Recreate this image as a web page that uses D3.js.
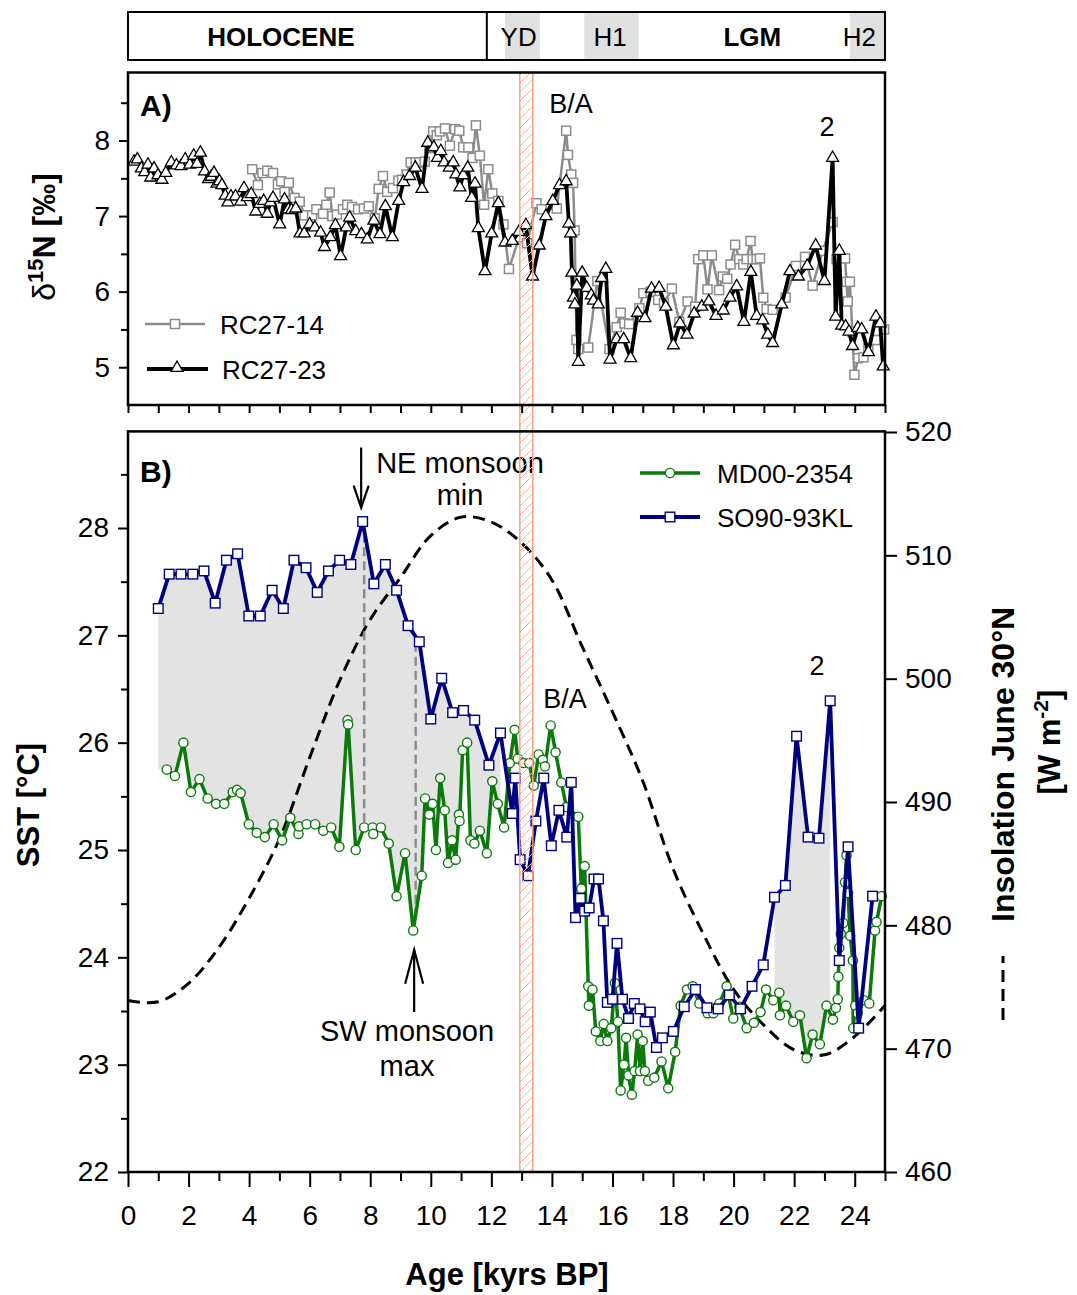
<!DOCTYPE html>
<html>
<head>
<meta charset="utf-8">
<script src="https://cdn.jsdelivr.net/npm/d3@7"></script>
<style>
body { margin: 0; background: #fff; }
text { font-family: Arial, "Liberation Sans", sans-serif; fill: #000; }
</style>
</head>
<body>
<div id="chart"></div>
<script>
const width = 1077, height = 1295;

// Panel A: d15N records [age kyr BP, d15N permil]
const rc2714 = [[4.1,7.62],[4.29,7.41],[4.44,7.57],[4.6,7.6],[4.79,7.57],[4.95,7.42],[5.06,7.46],[5.17,7.32],[5.31,7.44],[5.5,7.24],[5.67,7.19],[5.83,7.01],[6.08,7.01],[6.22,7.09],[6.44,7.03],[6.55,7.15],[6.66,7.31],[6.75,7.0],[6.9,7.02],[7.1,7.09],[7.24,7.15],[7.4,7.12],[7.6,7.09],[7.79,7.1],[7.95,7.13],[8.15,6.97],[8.28,7.36],[8.42,7.53],[8.56,7.32],[8.75,7.37],[8.93,7.47],[9.05,7.48],[9.2,7.55],[9.34,7.71],[9.5,7.71],[9.62,7.71],[9.8,7.72],[9.95,7.9],[10.08,8.12],[10.2,8.07],[10.3,8.12],[10.47,8.16],[10.63,7.93],[10.8,8.15],[10.94,8.13],[11.07,7.91],[11.24,7.91],[11.38,7.77],[11.49,8.2],[11.62,7.8],[11.76,7.15],[11.9,7.62],[12.03,7.3],[12.23,7.2],[12.4,6.89],[12.58,6.3],[12.92,6.72],[13.18,6.64],[13.49,7.17],[13.66,7.09],[14.16,7.1],[14.47,8.13],[14.53,7.81],[14.64,7.55],[14.7,7.44],[14.75,6.81],[14.81,5.36],[14.87,5.24],[15.2,5.26],[15.5,6.14],[15.9,5.24],[16.14,5.53],[16.27,5.72],[16.4,5.58],[16.55,5.57],[16.89,5.78],[17.02,5.98],[17.26,6.0],[17.51,5.89],[17.7,5.85],[17.96,6.04],[18.21,5.6],[18.48,5.87],[18.73,5.8],[18.83,6.43],[19.0,6.48],[19.14,6.03],[19.28,6.48],[19.52,6.02],[19.64,6.2],[19.79,6.17],[19.9,6.36],[20.05,6.62],[20.19,6.43],[20.32,6.36],[20.43,6.43],[20.56,6.67],[20.63,6.43],[20.76,6.43],[20.87,6.44],[20.98,5.92],[21.09,5.77],[21.29,5.76],[21.72,5.92],[22.06,6.34],[22.36,6.46],[22.61,6.08],[22.94,6.54],[23.27,6.92],[23.4,6.43],[23.68,6.44],[23.73,6.13],[23.77,5.87],[23.84,6.13],[23.92,5.47],[23.99,4.9],[24.12,5.12],[24.29,5.13],[24.45,5.25],[24.7,5.36],[24.97,5.5]];

const rc2723 = [[0.2,7.72],[0.31,7.75],[0.44,7.63],[0.55,7.58],[0.66,7.68],[0.75,7.51],[0.86,7.63],[0.99,7.54],[1.12,7.48],[1.25,7.57],[1.43,7.71],[1.6,7.67],[1.75,7.66],[1.89,7.75],[2.04,7.68],[2.17,7.8],[2.28,7.69],[2.39,7.84],[2.53,7.59],[2.66,7.49],[2.75,7.52],[2.84,7.57],[2.94,7.43],[3.02,7.46],[3.1,7.41],[3.21,7.27],[3.3,7.18],[3.4,7.26],[3.55,7.26],[3.72,7.19],[3.83,7.37],[3.94,7.25],[4.07,7.29],[4.22,7.06],[4.35,7.16],[4.48,7.2],[4.6,7.03],[4.7,7.18],[4.79,7.24],[5.01,6.89],[5.17,7.22],[5.3,7.09],[5.4,7.08],[5.54,7.1],[5.68,6.77],[5.82,6.77],[6.0,6.89],[6.17,6.85],[6.36,6.78],[6.49,6.59],[6.68,6.72],[6.85,6.88],[7.02,6.47],[7.21,6.85],[7.32,6.98],[7.52,6.8],[7.71,6.76],[7.9,6.69],[8.12,6.94],[8.32,6.76],[8.5,7.13],[8.73,6.72],[8.94,7.2],[9.1,7.45],[9.3,7.53],[9.49,7.64],[9.71,7.36],[9.9,7.97],[10.1,7.91],[10.22,7.77],[10.33,7.86],[10.44,7.71],[10.61,7.64],[10.74,7.71],[10.83,7.55],[10.96,7.38],[11.07,7.54],[11.22,7.64],[11.35,7.24],[11.46,7.43],[11.57,6.84],[11.79,6.27],[12.01,6.77],[12.23,7.17],[12.45,6.65],[12.69,6.67],[12.91,6.79],[13.14,6.88],[13.36,6.2],[13.58,6.61],[13.8,7.0],[14.03,7.2],[14.25,7.41],[14.47,7.46],[14.56,6.9],[14.62,6.77],[14.66,6.25],[14.71,5.92],[14.76,5.83],[14.82,6.08],[14.87,5.07],[15.0,6.25],[15.15,6.05],[15.3,5.95],[15.37,5.88],[15.53,5.83],[15.64,6.18],[15.78,6.3],[15.92,5.1],[16.14,5.37],[16.37,5.37],[16.6,5.12],[16.83,5.72],[17.07,5.65],[17.29,6.04],[17.54,6.05],[17.76,5.8],[18.01,5.29],[18.23,5.58],[18.46,5.43],[18.7,5.71],[18.95,5.8],[19.18,5.87],[19.42,5.68],[19.66,5.75],[19.88,5.92],[20.1,6.07],[20.34,5.6],[20.57,6.26],[20.76,5.68],[20.96,5.62],[21.13,5.43],[21.29,5.32],[21.59,5.83],[21.86,6.27],[22.14,6.2],[22.43,6.34],[22.71,6.61],[23.0,6.14],[23.27,7.77],[23.37,5.67],[23.49,6.54],[23.57,5.55],[23.7,5.54],[23.81,5.47],[23.93,5.28],[24.1,5.52],[24.23,5.5],[24.45,5.2],[24.7,5.67],[24.84,5.58],[24.94,5.01]];

// Panel B: SST records [age kyr BP, SST degC]
const md002354 = [[1.28,25.75],[1.55,25.69],[1.83,26.0],[2.08,25.54],[2.36,25.66],[2.63,25.48],[2.91,25.43],[3.18,25.43],[3.46,25.54],[3.6,25.56],[3.72,25.53],[3.99,25.24],[4.25,25.16],[4.52,25.12],[4.81,25.24],[5.09,25.09],[5.36,25.3],[5.63,25.15],[5.65,25.22],[5.9,25.24],[6.18,25.24],[6.45,25.18],[6.71,25.21],[6.98,25.03],[7.25,26.21],[7.27,26.17],[7.52,25.0],[7.8,25.21],[8.08,25.21],[8.1,25.15],[8.35,25.21],[8.61,25.06],[8.87,24.57],[9.15,24.97],[9.42,24.25],[9.7,24.76],[9.81,25.48],[9.95,25.33],[10.06,25.43],[10.17,25.0],[10.31,25.67],[10.46,25.37],[10.57,24.88],[10.7,25.09],[10.82,24.91],[10.93,25.33],[10.95,25.27],[11.05,25.93],[11.2,26.0],[11.31,25.09],[11.44,25.06],[11.62,25.18],[11.85,24.97],[12.03,25.64],[12.21,25.43],[12.42,25.21],[12.61,25.81],[12.77,26.12],[12.87,25.85],[13.06,25.81],[13.25,25.81],[13.4,25.6],[13.56,25.89],[13.7,25.84],[13.77,25.78],[13.96,26.16],[14.12,25.91],[14.31,25.63],[14.48,25.4],[14.87,25.31],[14.97,24.64],[15.08,24.85],[15.2,23.73],[15.22,23.55],[15.34,23.7],[15.45,23.31],[15.6,23.22],[15.71,23.38],[15.83,23.22],[15.96,23.34],[16.08,23.76],[16.18,23.4],[16.27,22.76],[16.38,23.0],[16.45,23.25],[16.53,22.9],[16.64,22.72],[16.73,22.94],[16.83,23.28],[16.91,22.94],[17.0,23.22],[17.07,22.94],[17.18,22.85],[17.38,22.88],[17.62,23.03],[17.84,22.78],[18.07,23.12],[18.25,23.55],[18.46,23.7],[18.65,23.73],[18.87,23.57],[19.14,23.48],[19.33,23.48],[19.53,23.57],[19.77,23.73],[19.99,23.43],[20.19,23.54],[20.43,23.34],[20.67,23.39],[20.89,23.49],[21.07,23.7],[21.31,23.6],[21.51,23.67],[21.53,23.46],[21.73,23.55],[21.97,23.4],[22.19,23.46],[22.41,23.06],[22.61,23.28],[22.85,23.19],[23.07,23.55],[23.28,23.42],[23.38,23.53],[23.44,23.61],[23.46,23.82],[23.49,24.09],[23.54,24.22],[23.62,24.32],[23.68,24.7],[23.73,24.95],[23.78,24.6],[23.85,24.2],[23.94,23.97],[23.95,23.34],[24.02,23.55],[24.1,23.48],[24.3,23.6],[24.48,23.57],[24.67,24.25],[24.72,24.33],[24.89,24.57]];

const so9093kl = [[1.0,27.25],[1.36,27.57],[1.75,27.57],[2.14,27.57],[2.51,27.6],[2.88,27.3],[3.25,27.7],[3.62,27.76],[3.99,27.18],[4.37,27.18],[4.76,27.42],[5.13,27.25],[5.48,27.7],[5.88,27.63],[6.25,27.4],[6.62,27.6],[6.99,27.7],[7.36,27.66],[7.75,28.06],[8.12,27.48],[8.5,27.66],[8.87,27.42],[9.25,27.09],[9.62,26.94],[10.0,26.22],[10.36,26.6],[10.72,26.28],[11.08,26.3],[11.45,26.21],[11.92,25.79],[12.3,26.09],[12.69,25.34],[12.79,25.67],[12.95,24.91],[13.21,24.76],[13.47,25.27],[13.73,25.67],[13.98,25.04],[14.23,25.37],[14.49,25.12],[14.64,25.63],[14.78,24.37],[14.94,24.55],[15.08,24.43],[15.23,24.46],[15.39,24.73],[15.54,24.73],[15.7,24.34],[15.83,23.58],[16.0,23.61],[16.15,24.13],[16.33,23.61],[16.53,23.43],[16.72,23.57],[16.91,23.52],[17.08,23.4],[17.25,23.49],[17.45,23.16],[17.65,23.25],[18.01,23.31],[18.37,23.54],[18.74,23.7],[19.12,23.53],[19.49,23.52],[19.86,23.65],[20.23,23.52],[20.61,23.73],[20.98,23.93],[21.35,24.56],[21.71,24.67],[22.08,26.06],[22.46,25.12],[22.82,25.11],[23.19,26.39],[23.49,23.97],[23.78,25.03],[24.13,23.34],[24.59,24.57]];

// June insolation 30N [age, W m-2]
const insolation = [[0,473.9],[1,473.8],[2,475.3],[3,478.2],[4,482.2],[5,487.0],[6,493.6],[7,499.9],[8,504.8],[9,508.2],[10,511.6],[11,513.1],[12,512.7],[13,511.0],[14,508.0],[15,502.6],[16,497.3],[17,491.7],[18,484.6],[19,479.3],[20,474.8],[21,471.9],[22,469.9],[23,469.5],[24,471.0],[25,473.5]];

// shaded SST difference windows, YD hatched band, period bar
const fillRanges = [[1.0, 12.3], [21.35, 23.19]];
const hatchBand = [12.94, 13.37];
const periodShades = [[12.45, 13.6], [15.07, 16.87], [23.85, 25]];
const periodDivider = 11.85;
const periodLabels = [
  { label: "HOLOCENE", age: 5.05, bold: true },
  { label: "YD", age: 12.9, bold: false },
  { label: "H1", age: 15.92, bold: false },
  { label: "LGM", age: 20.62, bold: true },
  { label: "H2", age: 24.15, bold: false }
];

const ageMajor = d3.range(0, 25, 2);
const ageMinor = d3.range(1, 26, 2);
const d15nMajor = [5, 6, 7, 8];
const d15nMinor = [5.5, 6.5, 7.5, 8.5];
const sstMajor = [22, 23, 24, 25, 26, 27, 28];
const sstMinor = [22.5, 23.5, 24.5, 25.5, 26.5, 27.5, 28.5];
const insolTicks = [460, 470, 480, 490, 500, 510, 520];

const svg = d3.select("#chart").append("svg")
    .attr("width", width)
    .attr("height", height);

const x = d3.scaleLinear().domain([0, 25]).range([128, 885]);
const yA = d3.scaleLinear().domain([4.5, 8.9]).range([405, 72.5]);
const yB = d3.scaleLinear().domain([22, 28.9]).range([1172, 431.4]);
const yI = d3.scaleLinear().domain([460, 520]).range([1172, 432]);

// hatch pattern for the red band
const defs = svg.append("defs");
const pat = defs.append("pattern")
    .attr("id", "hatch")
    .attr("patternUnits", "userSpaceOnUse")
    .attr("width", 9).attr("height", 9);
pat.append("path")
    .attr("d", "M0,9 L9,0 M-2,2 L2,-2 M7,11 L11,7")
    .attr("stroke", "#f9b39c")
    .attr("stroke-width", 1);

// ---------- period bar ----------
const bar = svg.append("g");
periodShades.forEach(s => {
    bar.append("rect")
        .attr("x", x(s[0])).attr("y", 12)
        .attr("width", x(s[1]) - x(s[0])).attr("height", 48)
        .attr("fill", "#e0e0e0");
});
bar.append("rect")
    .attr("x", x(0)).attr("y", 12)
    .attr("width", x(25) - x(0)).attr("height", 48)
    .attr("fill", "none").attr("stroke", "#000").attr("stroke-width", 2);
bar.append("line")
    .attr("x1", x(periodDivider)).attr("x2", x(periodDivider))
    .attr("y1", 12).attr("y2", 60)
    .attr("stroke", "#000").attr("stroke-width", 2);
bar.selectAll("text.period")
    .data(periodLabels)
    .enter().append("text")
    .attr("x", d => x(d.age))
    .attr("y", 46)
    .attr("text-anchor", "middle")
    .style("font-size", "26px")
    .style("font-weight", d => d.bold ? "bold" : "normal")
    .text(d => d.label);

// ---------- panel A ----------
const gA = svg.append("g");

const lineA = d3.line().x(d => x(d[0])).y(d => yA(d[1]));

gA.append("path")
    .datum(rc2714)
    .attr("d", lineA)
    .attr("fill", "none")
    .attr("stroke", "#8c8c8c")
    .attr("stroke-width", 2.5);
gA.selectAll(".sq14")
    .data(rc2714)
    .enter().append("rect")
    .attr("class", "sq14")
    .attr("x", d => x(d[0]) - 4.5)
    .attr("y", d => yA(d[1]) - 4.5)
    .attr("width", 9).attr("height", 9)
    .attr("fill", "#fff")
    .attr("stroke", "#8c8c8c")
    .attr("stroke-width", 1.5);

gA.append("path")
    .datum(rc2723)
    .attr("d", lineA)
    .attr("fill", "none")
    .attr("stroke", "#000")
    .attr("stroke-width", 3.8)
    .attr("stroke-linejoin", "round");
const tri = d3.symbol().type(d3.symbolTriangle).size(62);
gA.selectAll(".tri23")
    .data(rc2723)
    .enter().append("path")
    .attr("class", "tri23")
    .attr("d", tri)
    .attr("transform", d => `translate(${x(d[0])},${yA(d[1])})`)
    .attr("fill", "#fff")
    .attr("stroke", "#000")
    .attr("stroke-width", 1.3);

// legend A
gA.append("line").attr("x1", 145).attr("x2", 205).attr("y1", 324).attr("y2", 324)
    .attr("stroke", "#8c8c8c").attr("stroke-width", 2.5);
gA.append("rect").attr("x", 170.5).attr("y", 319.5).attr("width", 9).attr("height", 9)
    .attr("fill", "#fff").attr("stroke", "#8c8c8c").attr("stroke-width", 1.5);
gA.append("text").attr("x", 220).attr("y", 334).style("font-size", "26px").text("RC27-14");
gA.append("line").attr("x1", 147).attr("x2", 208).attr("y1", 369).attr("y2", 369)
    .attr("stroke", "#000").attr("stroke-width", 3.8);
gA.append("path").attr("d", tri).attr("transform", "translate(177,368)")
    .attr("fill", "#fff").attr("stroke", "#000").attr("stroke-width", 1.3);
gA.append("text").attr("x", 222).attr("y", 379).style("font-size", "26px").text("RC27-23");

gA.append("text").attr("x", 140).attr("y", 116)
    .style("font-size", "30px").style("font-weight", "bold").text("A)");
gA.append("text").attr("x", 571).attr("y", 113).attr("text-anchor", "middle")
    .style("font-size", "27px").text("B/A");
gA.append("text").attr("x", 827).attr("y", 136).attr("text-anchor", "middle")
    .style("font-size", "27px").text("2");

// axes A
function styleAxis(g, fs) {
    g.select(".domain").remove();
    g.selectAll(".tick line").attr("stroke", "#000").attr("stroke-width", 2);
    g.selectAll(".tick text").style("font-size", fs + "px")
        .style("font-family", "Arial, 'Liberation Sans', sans-serif");
}
svg.append("g").attr("transform", "translate(128,0)")
    .call(d3.axisLeft(yA).tickValues(d15nMajor).tickSize(9).tickPadding(9).tickFormat(d3.format("d")))
    .call(g => styleAxis(g, 28));
svg.append("g").attr("transform", "translate(128,0)")
    .call(d3.axisLeft(yA).tickValues(d15nMinor).tickSize(7).tickFormat(""))
    .call(g => styleAxis(g, 28));
svg.append("g").attr("transform", "translate(0,405)")
    .call(d3.axisBottom(x).tickValues(d3.range(0, 26, 1)).tickSize(8).tickFormat(""))
    .call(g => styleAxis(g, 28));

// ---------- panel B ----------
const gB = svg.append("g");

function interp(series, a) {
    const i = d3.bisector(d => d[0]).left(series, a);
    if (i <= 0) return series[0][1];
    if (i >= series.length) return series[series.length - 1][1];
    const p = series[i - 1], q = series[i];
    return p[1] + (q[1] - p[1]) * (a - p[0]) / (q[0] - p[0]);
}

const areaB = d3.area()
    .x(d => x(d))
    .y0(d => yB(interp(md002354, d)))
    .y1(d => yB(interp(so9093kl, d)));

fillRanges.forEach(r => {
    const ages = Array.from(new Set([r[0], r[1]]
        .concat(md002354.map(d => d[0]), so9093kl.map(d => d[0]))
        .filter(a => a >= r[0] && a <= r[1]))).sort((a, b) => a - b);
    gB.append("path")
        .datum(ages)
        .attr("d", areaB)
        .attr("fill", "#e3e3e3");
});

// insolation curve
gB.append("path")
    .datum(insolation)
    .attr("d", d3.line().x(d => x(d[0])).y(d => yI(d[1])).curve(d3.curveCatmullRom))
    .attr("fill", "none")
    .attr("stroke", "#000")
    .attr("stroke-width", 3)
    .attr("stroke-dasharray", "12,7");

// dashed gray drop lines
[[7.8, 27.95, 25.25], [9.5, 26.93, 24.32]].forEach(v => {
    gB.append("line")
        .attr("x1", x(v[0])).attr("x2", x(v[0]))
        .attr("y1", yB(v[1])).attr("y2", yB(v[2]))
        .attr("stroke", "#8c8c8c").attr("stroke-width", 2.5)
        .attr("stroke-dasharray", "9,5");
});

const lineB = d3.line().x(d => x(d[0])).y(d => yB(d[1]));

gB.append("path")
    .datum(md002354)
    .attr("d", lineB)
    .attr("fill", "none")
    .attr("stroke", "#0b7a0b")
    .attr("stroke-width", 3.5)
    .attr("stroke-linejoin", "round");
gB.selectAll(".circ")
    .data(md002354)
    .enter().append("circle")
    .attr("class", "circ")
    .attr("cx", d => x(d[0]))
    .attr("cy", d => yB(d[1]))
    .attr("r", 4.6)
    .attr("fill", "#fff")
    .attr("stroke", "#0b7a0b")
    .attr("stroke-width", 1.4);

gB.append("path")
    .datum(so9093kl)
    .attr("d", lineB)
    .attr("fill", "none")
    .attr("stroke", "#00007f")
    .attr("stroke-width", 3.8)
    .attr("stroke-linejoin", "round");
gB.selectAll(".sqb")
    .data(so9093kl)
    .enter().append("rect")
    .attr("class", "sqb")
    .attr("x", d => x(d[0]) - 4.8)
    .attr("y", d => yB(d[1]) - 4.8)
    .attr("width", 9.6).attr("height", 9.6)
    .attr("fill", "#fff")
    .attr("stroke", "#00007f")
    .attr("stroke-width", 1.4);

// legend B
gB.append("line").attr("x1", 640).attr("x2", 700).attr("y1", 473).attr("y2", 473)
    .attr("stroke", "#0b7a0b").attr("stroke-width", 3.5);
gB.append("circle").attr("cx", 670).attr("cy", 473).attr("r", 4.6)
    .attr("fill", "#fff").attr("stroke", "#0b7a0b").attr("stroke-width", 1.4);
gB.append("text").attr("x", 717).attr("y", 483).style("font-size", "26px").text("MD00-2354");
gB.append("line").attr("x1", 640).attr("x2", 700).attr("y1", 517).attr("y2", 517)
    .attr("stroke", "#00007f").attr("stroke-width", 3.8);
gB.append("rect").attr("x", 665.2).attr("y", 512.2).attr("width", 9.6).attr("height", 9.6)
    .attr("fill", "#fff").attr("stroke", "#00007f").attr("stroke-width", 1.4);
gB.append("text").attr("x", 717).attr("y", 527).style("font-size", "26px").text("SO90-93KL");

gB.append("text").attr("x", 140).attr("y", 482)
    .style("font-size", "30px").style("font-weight", "bold").text("B)");
gB.append("text").attr("x", 565).attr("y", 708).attr("text-anchor", "middle")
    .style("font-size", "27px").text("B/A");
gB.append("text").attr("x", 817).attr("y", 675).attr("text-anchor", "middle")
    .style("font-size", "27px").text("2");

// monsoon annotations
function arrow(xa, yTail, yTip, headLen, headHalf) {
    const dir = yTip > yTail ? -1 : 1;
    gB.append("line").attr("x1", xa).attr("x2", xa).attr("y1", yTail).attr("y2", yTip)
        .attr("stroke", "#000").attr("stroke-width", 2.2);
    gB.append("path")
        .attr("d", `M${xa - headHalf},${yTip + dir * headLen} L${xa},${yTip} L${xa + headHalf},${yTip + dir * headLen}`)
        .attr("fill", "none").attr("stroke", "#000").attr("stroke-width", 2.2);
}
arrow(x(7.7), yB(28.75), yB(28.19), 22, 7.5);
arrow(x(9.45), yB(23.49), yB(24.07), 34, 9);
gB.append("text").attr("x", 460).attr("y", 473).attr("text-anchor", "middle")
    .style("font-size", "29px").text("NE monsoon");
gB.append("text").attr("x", 460).attr("y", 505).attr("text-anchor", "middle")
    .style("font-size", "29px").text("min");
gB.append("text").attr("x", 407).attr("y", 1041).attr("text-anchor", "middle")
    .style("font-size", "29px").text("SW monsoon");
gB.append("text").attr("x", 407).attr("y", 1076).attr("text-anchor", "middle")
    .style("font-size", "29px").text("max");

// hatched YD band on top of both panels
svg.append("rect")
    .attr("x", x(hatchBand[0])).attr("y", yA(8.9))
    .attr("width", x(hatchBand[1]) - x(hatchBand[0]))
    .attr("height", yB(22) - yA(8.9))
    .attr("fill", "url(#hatch)")
    .attr("stroke", "#f5a083")
    .attr("stroke-width", 1.5);

// axes B
svg.append("g").attr("transform", "translate(128,0)")
    .call(d3.axisLeft(yB).tickValues(sstMajor).tickSize(10).tickPadding(9).tickFormat(d3.format("d")))
    .call(g => styleAxis(g, 28));
svg.append("g").attr("transform", "translate(128,0)")
    .call(d3.axisLeft(yB).tickValues(sstMinor).tickSize(7).tickFormat(""))
    .call(g => styleAxis(g, 28));
svg.append("g").attr("transform", "translate(885,0)")
    .call(d3.axisRight(yI).tickValues(insolTicks).tickSize(12).tickPadding(8).tickFormat(d3.format("d")))
    .call(g => styleAxis(g, 28));
svg.append("g").attr("transform", "translate(0,1172)")
    .call(d3.axisBottom(x).tickValues(ageMajor).tickSize(15).tickPadding(18).tickFormat(d3.format("d")))
    .call(g => styleAxis(g, 28));
svg.append("g").attr("transform", "translate(0,1172)")
    .call(d3.axisBottom(x).tickValues(ageMinor).tickSize(9).tickFormat(""))
    .call(g => styleAxis(g, 28));

// frames
svg.append("rect").attr("x", x(0)).attr("y", yA(8.9))
    .attr("width", x(25) - x(0)).attr("height", yA(4.5) - yA(8.9))
    .attr("fill", "none").attr("stroke", "#000").attr("stroke-width", 2.5);
svg.append("rect").attr("x", x(0)).attr("y", yB(28.9))
    .attr("width", x(25) - x(0)).attr("height", yB(22) - yB(28.9))
    .attr("fill", "none").attr("stroke", "#000").attr("stroke-width", 2.5);

// axis titles
svg.append("text").attr("x", 507).attr("y", 1285).attr("text-anchor", "middle")
    .style("font-size", "31px").style("font-weight", "bold").text("Age [kyrs BP]");

svg.append("text").attr("transform", "translate(39,805) rotate(-90)")
    .attr("text-anchor", "middle")
    .style("font-size", "31px").style("font-weight", "bold").text("SST [°C]");

const dTitle = svg.append("text").attr("transform", "translate(55,237) rotate(-90)")
    .attr("text-anchor", "middle")
    .style("font-size", "32px").style("font-weight", "bold");
dTitle.append("tspan").style("font-weight", "normal").text("δ");
dTitle.append("tspan").attr("dy", -12).style("font-size", "22px").text("15");
dTitle.append("tspan").attr("dy", 12).text("N [‰]");

const rTitle = svg.append("g").attr("transform", "translate(1014,1020) rotate(-90)");
rTitle.append("line").attr("x1", 0).attr("x2", 64).attr("y1", -11).attr("y2", -11)
    .attr("stroke", "#000").attr("stroke-width", 3).attr("stroke-dasharray", "12,7");
rTitle.append("text").attr("x", 98).attr("y", 0)
    .style("font-size", "32px").style("font-weight", "bold").text("Insolation June 30°N");

const rTitle2 = svg.append("text").attr("transform", "translate(1060,742) rotate(-90)")
    .attr("text-anchor", "middle")
    .style("font-size", "31px").style("font-weight", "bold");
rTitle2.append("tspan").text("[W m");
rTitle2.append("tspan").attr("dy", -12).style("font-size", "21px").text("-2");
rTitle2.append("tspan").attr("dy", 12).text("]");
</script>
</body>
</html>
